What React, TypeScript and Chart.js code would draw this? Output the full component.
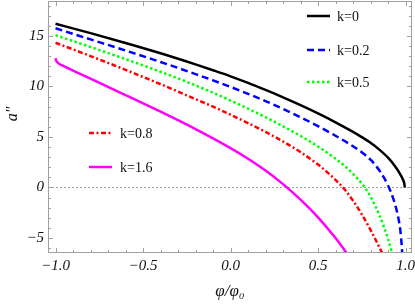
import React, { useEffect, useRef } from "react";
import { Chart, registerables } from "chart.js";
Chart.register(...registerables);

// ---- data ----
const seriesLabels = ["k=0", "k=0.2", "k=0.5", "k=0.8", "k=1.6"];

const k0X = [-1, -0.8, -0.6, -0.4, -0.2, -0.1, 0, 0.1, 0.2, 0.3, 0.4, 0.5, 0.6, 0.7, 0.75, 0.8, 0.85, 0.9, 0.94, 0.97, 0.985, 0.993, 0.996];
const k0Y = [16.2, 15.27, 14.3, 13.28, 12.18, 11.6, 11.0, 10.35, 9.65, 8.92, 8.15, 7.33, 6.45, 5.5, 4.98, 4.42, 3.75, 2.95, 2.1, 1.3, 0.8, 0.4, 0];

const k02X = [-1, -0.8, -0.6, -0.4, -0.2, -0.1, 0, 0.1, 0.2, 0.3, 0.4, 0.5, 0.6, 0.7, 0.75, 0.8, 0.85, 0.9, 0.93, 0.95, 0.96, 0.97, 0.98, 0.985];
const k02Y = [15.75, 14.65, 13.55, 12.42, 11.22, 10.6, 9.95, 9.27, 8.55, 7.78, 6.95, 6.07, 5.12, 4.08, 3.48, 2.75, 1.7, 0.2, -1.1, -2.3, -3.1, -4.2, -6.2, -8];

const k05X = [-1, -0.8, -0.6, -0.4, -0.2, -0.1, 0, 0.1, 0.2, 0.3, 0.4, 0.5, 0.6, 0.65, 0.7, 0.73, 0.75, 0.77, 0.8, 0.85, 0.9, 0.92, 0.95];
const k05Y = [15.07, 13.9, 12.7, 11.45, 10.1, 9.37, 8.6, 7.8, 6.95, 6.05, 5.1, 4.05, 2.85, 2.15, 1.35, 0.8, 0.4, -0.05, -0.9, -2.7, -5.1, -6.3, -8.3];

const k08X = [-1, -0.8, -0.6, -0.4, -0.2, -0.1, 0, 0.1, 0.2, 0.3, 0.4, 0.5, 0.55, 0.6, 0.65, 0.7, 0.75, 0.8, 0.85, 0.9];
const k08Y = [14.32, 13.0, 11.64, 10.22, 8.75, 8.0, 7.2, 6.37, 5.5, 4.55, 3.5, 2.27, 1.55, 0.75, -0.15, -1.3, -2.65, -4.2, -5.9, -7.7];

const k16X = [-1, -0.997, -0.99, -0.98, -0.95, -0.9, -0.8, -0.6, -0.4, -0.2, 0, 0.1, 0.2, 0.3, 0.4, 0.5, 0.6, 0.66, 0.7];
const k16Y = [12.8, 12.58, 12.4, 12.25, 11.98, 11.57, 10.77, 9.15, 7.5, 5.78, 3.9, 2.85, 1.68, 0.33, -1.2, -2.95, -5.0, -6.4, -7.4];

const xTickValues = [-1, -0.5, 0, 0.5, 1];
const yTickValues = [-5, 0, 5, 10, 15];
const xMinorTicks = [-1, -0.9, -0.8, -0.7, -0.6, -0.5, -0.4, -0.3, -0.2, -0.1, 0, 0.1, 0.2, 0.3, 0.4, 0.5, 0.6, 0.7, 0.8, 0.9, 1];
const yMinorTicks = [-6, -5, -4, -3, -2, -1, 0, 1, 2, 3, 4, 5, 6, 7, 8, 9, 10, 11, 12, 13, 14, 15, 16, 17, 18];

// ---- styling ----
const X_MIN = -1.043, X_MAX = 1.037, Y_MIN = -6.48, Y_MAX = 18.45;
const colors = ["#000000", "#0000ff", "#00ff00", "#ff0000", "#ff00ff"];
const dashes: number[][] = [[], [7, 4], [2.5, 2.5], [5, 2.5, 2, 2.5], []];
const widths = [2.5, 2.5, 2.5, 2.5, 2.5];
// legend placement: [lineStartX, lineEndX, textX, y]
const legendPos = [
  [307, 330, 337, 16],
  [307, 330, 337, 50],
  [307, 330, 337, 82],
  [89, 112, 120, 133],
  [89, 112, 120, 167],
];
const SERIF = '"Liberation Serif", "Times New Roman", serif';
const FRAME = "#a0a0a0";

const fmt = (v: number, d: number) => {
  const s = Math.abs(v).toFixed(d);
  return v < 0 ? "\u2212" + s : s;
};

const zip = (xs: number[], ys: number[]) => xs.map((x, i) => ({ x, y: ys[i] }));

const framePlugin = {
  id: "frame",
  beforeDatasetsDraw(chart: any) {
    const { ctx, chartArea, scales } = chart;
    const y0 = Math.round(scales.y.getPixelForValue(0)) + 0.5;
    ctx.save();
    ctx.strokeStyle = "#a0a0a0";
    ctx.lineWidth = 1;
    ctx.setLineDash([2, 2]);
    ctx.beginPath();
    ctx.moveTo(chartArea.left, y0);
    ctx.lineTo(chartArea.right, y0);
    ctx.stroke();
    ctx.restore();
  },
  afterDraw(chart: any) {
    const { ctx, chartArea, scales } = chart;
    const { left, right, top, bottom } = chartArea;
    ctx.save();
    ctx.strokeStyle = FRAME;
    ctx.lineWidth = 1;
    ctx.strokeRect(left + 0.5, top + 0.5, right - left - 1, bottom - top - 1);
    ctx.beginPath();
    xMinorTicks.forEach((v) => {
      const px = Math.round(scales.x.getPixelForValue(v)) + 0.5;
      const len = xTickValues.includes(v) ? 5 : 3;
      ctx.moveTo(px, bottom);
      ctx.lineTo(px, bottom - len);
      ctx.moveTo(px, top);
      ctx.lineTo(px, top + len);
    });
    yMinorTicks.forEach((v) => {
      const py = Math.round(scales.y.getPixelForValue(v)) + 0.5;
      const len = yTickValues.includes(v) ? 5 : 3;
      ctx.moveTo(left, py);
      ctx.lineTo(left + len, py);
      ctx.moveTo(right, py);
      ctx.lineTo(right - len, py);
    });
    ctx.stroke();

    // legend
    seriesLabels.forEach((lab, i) => {
      const [x1, x2, tx, y] = legendPos[i];
      ctx.save();
      ctx.strokeStyle = colors[i];
      ctx.lineWidth = widths[i];
      ctx.setLineDash(dashes[i]);
      ctx.beginPath();
      ctx.moveTo(x1, y);
      ctx.lineTo(x2, y);
      ctx.stroke();
      ctx.restore();
      ctx.fillStyle = "#111";
      ctx.font = `14px ${SERIF}`;
      ctx.textAlign = "left";
      ctx.textBaseline = "middle";
      ctx.fillText(lab, tx, y + 1);
    });

    // y axis title
    ctx.save();
    ctx.translate(13, 114);
    ctx.rotate(-Math.PI / 2);
    ctx.font = `italic 16px ${SERIF}`;
    ctx.fillStyle = "#111";
    ctx.textAlign = "center";
    ctx.textBaseline = "middle";
    ctx.fillText("a\u2033", 0, 0);
    ctx.restore();
    ctx.restore();
  },
};

export default function App() {
  const ref = useRef<HTMLCanvasElement>(null);
  useEffect(() => {
    document.body.style.margin = "0";
    const series = [zip(k0X, k0Y), zip(k02X, k02Y), zip(k05X, k05Y), zip(k08X, k08Y), zip(k16X, k16Y)];
    const chart = new Chart(ref.current!, {
      type: "line",
      data: {
        datasets: series.map((d, i) => ({
          label: seriesLabels[i],
          data: d,
          borderColor: colors[i],
          borderWidth: widths[i],
          borderDash: dashes[i],
          pointRadius: 0,
          fill: false,
          cubicInterpolationMode: "monotone" as const,
        })),
      },
      options: {
        responsive: false,
        animation: false,
        layout: { padding: { left: 0, top: 1, right: 3, bottom: 0 } },
        plugins: { legend: { display: false }, tooltip: { enabled: false } },
        scales: {
          x: {
            type: "linear",
            min: X_MIN,
            max: X_MAX,
            afterBuildTicks: (s: any) => {
              s.ticks = xTickValues.map((v) => ({ value: v }));
            },
            afterFit: (s: any) => {
              s.height = 51;
              s.paddingLeft = 0;
              s.paddingRight = 0;
            },
            grid: { display: false, drawTicks: false },
            border: { display: false },
            ticks: {
              padding: 4,
              maxRotation: 0,
              autoSkip: false,
              color: "#111",
              font: { family: SERIF, style: "italic", size: 15 },
              callback: (v: any) => fmt(Number(v), 1),
            },
            title: {
              display: true,
              text: "\u03c6/\u03c6\u2080",
              color: "#111",
              font: { family: SERIF, style: "italic", size: 17 },
              padding: { top: 0, bottom: 2 },
            },
          },
          y: {
            type: "linear",
            min: Y_MIN,
            max: Y_MAX,
            afterBuildTicks: (s: any) => {
              s.ticks = yTickValues.map((v) => ({ value: v }));
            },
            afterFit: (s: any) => {
              s.width = 48;
              s.paddingTop = 0;
              s.paddingBottom = 0;
            },
            grid: { display: false, drawTicks: false },
            border: { display: false },
            ticks: {
              padding: 4,
              autoSkip: false,
              color: "#111",
              font: { family: SERIF, style: "italic", size: 15 },
              callback: (v: any) => fmt(Number(v), 0),
            },
          },
        },
      },
      plugins: [framePlugin],
    });
    return () => chart.destroy();
  }, []);
  return <canvas ref={ref} width={415} height={304} style={{ display: "block" }} />;
}
